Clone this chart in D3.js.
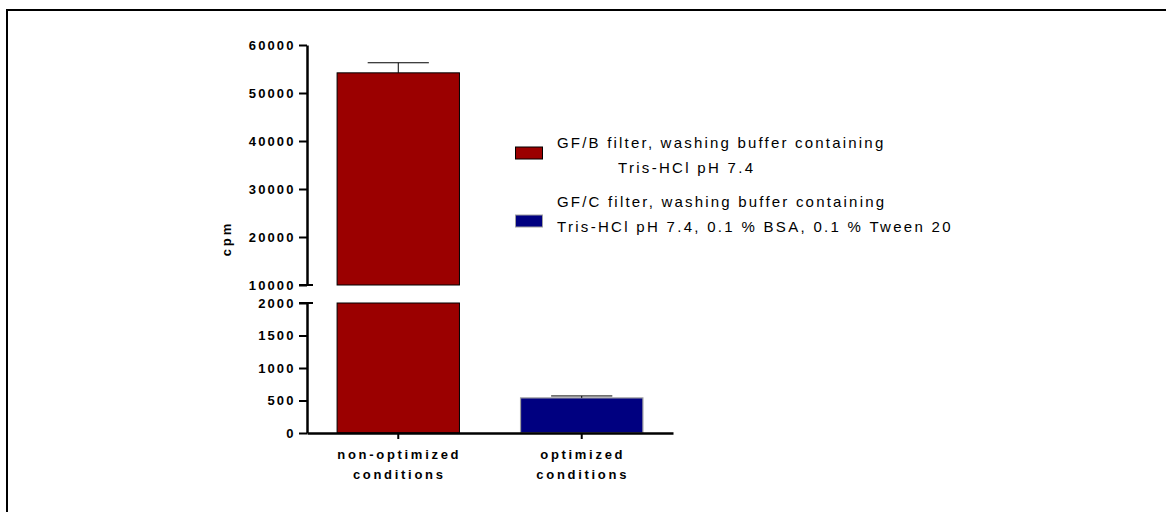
<!DOCTYPE html>
<html><head><meta charset="utf-8">
<script src="https://cdn.jsdelivr.net/npm/d3@7"></script>
<style>
body{margin:0;background:#fff;}
svg{display:block;font-family:"Liberation Sans",Arial,sans-serif;}
</style></head>
<body>
<svg id="c" width="1166" height="512"></svg>
<script>
const categories = ["non-optimized|conditions", "optimized|conditions"];
const values = [54200, 540];
const errors = [2100, 30];
const colors = ["#9b0000", "#000080"];
const strokes = ["#000000", "#a0a0a0"];
const legendLabels = [
  ["GF/B filter, washing buffer containing", "Tris-HCl pH 7.4"],
  ["GF/C filter, washing buffer containing", "Tris-HCl pH 7.4, 0.1 % BSA, 0.1 % Tween 20"]
];
const topTicks = [10000, 20000, 30000, 40000, 50000, 60000];
const botTicks = [0, 500, 1000, 1500, 2000];

const svg = d3.select("#c");
// frame
svg.append("path").attr("d","M7,512 V10 H1166").attr("fill","none").attr("stroke","#000").attr("stroke-width",2);

const axX = 307;
const yTop = d3.scaleLinear().domain([10000,60000]).range([285,45]);
const yBot = d3.scaleLinear().domain([0,2000]).range([433,303]);
const x = d3.scaleBand().domain(categories).range([307,673]).paddingInner(0.333).paddingOuter(0.164);

// bars
categories.forEach((c,i)=>{
  const v = values[i];
  const x0 = x(c), w = x.bandwidth();
  if (v > 10000) {
    svg.append("rect").attr("x",x0).attr("y",yTop(v)).attr("width",w).attr("height",yTop(10000)-yTop(v))
      .attr("fill",colors[i]).attr("stroke",strokes[i]).attr("stroke-width",1);
    svg.append("rect").attr("x",x0).attr("y",yBot(2000)).attr("width",w).attr("height",yBot(0)-yBot(2000))
      .attr("fill",colors[i]).attr("stroke",strokes[i]).attr("stroke-width",1);
    const ye = yTop(v+errors[i]);
    svg.append("line").attr("x1",x0+w/2).attr("x2",x0+w/2).attr("y1",yTop(v)).attr("y2",ye).attr("stroke","#000");
    svg.append("line").attr("x1",x0+w/4).attr("x2",x0+3*w/4).attr("y1",ye).attr("y2",ye).attr("stroke","#000");
  } else {
    svg.append("rect").attr("x",x0).attr("y",yBot(v)).attr("width",w).attr("height",yBot(0)-yBot(v))
      .attr("fill",colors[i]).attr("stroke",strokes[i]).attr("stroke-width",1.2);
    const ye = yBot(v+errors[i]);
    svg.append("line").attr("x1",x0+w/2).attr("x2",x0+w/2).attr("y1",yBot(v)).attr("y2",ye).attr("stroke","#000");
    svg.append("line").attr("x1",x0+w/4).attr("x2",x0+3*w/4).attr("y1",ye).attr("y2",ye).attr("stroke","#000");
  }
});

function styleAxis(g){
  g.select(".domain").attr("stroke-width",2.5);
  g.selectAll(".tick line").attr("stroke-width",2);
  g.selectAll(".tick text").attr("font-size",13).attr("font-weight","bold").style("letter-spacing","2.1px")
    .attr("font-family","Liberation Sans, Arial, sans-serif").attr("fill","#000");
}
const fmt = d3.format("d");
const gTop = svg.append("g").attr("transform",`translate(${axX},0)`)
  .call(d3.axisLeft(yTop).tickValues(topTicks).tickFormat(fmt).tickSize(8).tickPadding(3.5).tickSizeOuter(0));
styleAxis(gTop);
const gBot = svg.append("g").attr("transform",`translate(${axX},0)`)
  .call(d3.axisLeft(yBot).tickValues(botTicks).tickFormat(fmt).tickSize(8).tickPadding(3.5).tickSizeOuter(0));
styleAxis(gBot);
// break caps
svg.append("line").attr("x1",axX-8).attr("x2",axX+6).attr("y1",yTop(10000)).attr("y2",yTop(10000)).attr("stroke","#000").attr("stroke-width",2);
svg.append("line").attr("x1",axX-8).attr("x2",axX+6).attr("y1",yBot(2000)).attr("y2",yBot(2000)).attr("stroke","#000").attr("stroke-width",2);

// x axis
const gx = svg.append("g").attr("transform","translate(0,433)")
  .call(d3.axisBottom(x).tickSize(6).tickSizeOuter(0).tickFormat(()=>""));
gx.select(".domain").attr("stroke-width",2.5);
gx.selectAll(".tick line").attr("stroke-width",2);
categories.forEach(c=>{
  const parts = c.split("|");
  const cx = x(c)+x.bandwidth()/2;
  const t = svg.append("text").attr("text-anchor","middle")
    .attr("font-size",13).attr("font-weight","bold").style("letter-spacing","2.7px");
  parts.forEach((p,j)=>t.append("tspan").attr("x",cx+1).attr("y",459+j*20).text(p));
});

// y label
svg.append("text").attr("transform","translate(231,238.5) rotate(-90)").attr("text-anchor","middle")
  .attr("font-size",13).attr("font-weight","bold").style("letter-spacing","3px").text("cpm");

// legend
const legY = [147, 215];
const txtY = [148, 207];
legendLabels.forEach((lab,i)=>{
  svg.append("rect").attr("x",515.5).attr("y",legY[i]).attr("width",27).attr("height",12)
    .attr("fill",colors[i]).attr("stroke",i===0?"#000":"#a0a0a0").attr("stroke-width",1);
  svg.append("text").attr("x",557).attr("y",txtY[i]).attr("font-size",15).style("letter-spacing","2.2px").text(lab[0]);
  svg.append("text").attr("x",i===0?618:557).attr("y",txtY[i]+25).attr("font-size",15).style("letter-spacing","2.3px").text(lab[1]);
});
</script>
</body></html>
